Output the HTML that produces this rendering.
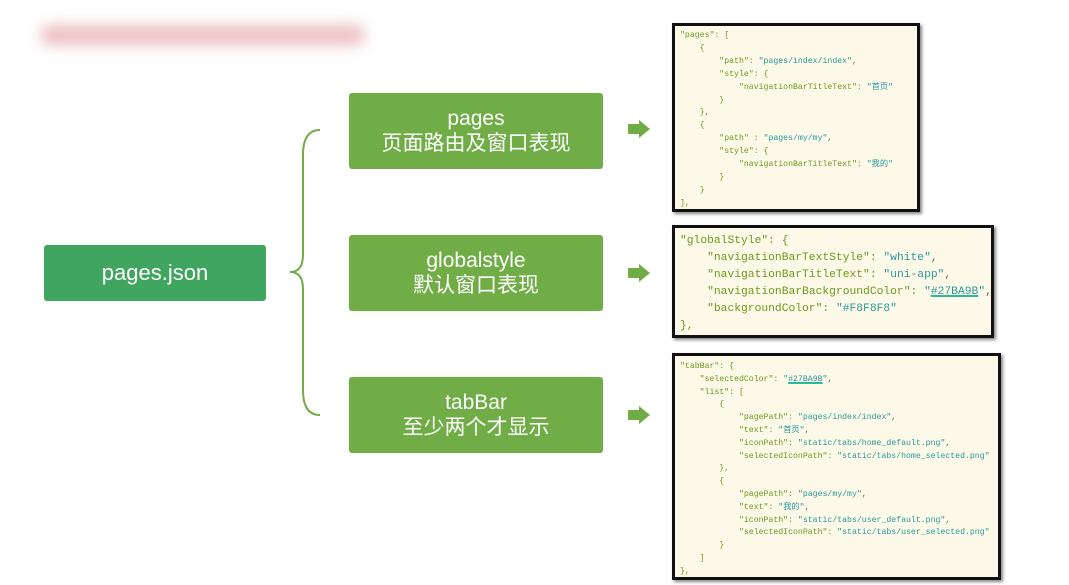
<!DOCTYPE html>
<html><head><meta charset="utf-8"><style>
body{margin:0;width:1069px;height:585px;background:#fff;position:relative;overflow:hidden;font-family:"Liberation Sans","Noto Sans CJK SC",sans-serif}
.blur{position:absolute;left:40px;top:25px;width:325px;height:20px;background:#e8b0b0;filter:blur(7px);opacity:.8;border-radius:10px}
.box{position:absolute;color:#fff;text-align:center;border-radius:3px}
.g{background:#70ad47;left:349px;width:254px;height:76px;font-size:21px;line-height:25px;padding-top:13px;box-sizing:border-box}
.arr{position:absolute;left:628px;width:22px;height:18px}
.panel{position:absolute;background:#fdf9e9;border:3px solid #111;box-shadow:2px 2px 3px #888;box-sizing:border-box;overflow:hidden}
pre{margin:0;font-family:"Liberation Mono","Noto Sans CJK SC",monospace;color:#6b9a1f;white-space:pre}
.v{color:#2a9a9a}.p{color:#666}
.u{text-decoration:underline;text-decoration-color:#27ba9b;text-decoration-thickness:2px}
</style></head><body>
<div class="blur"></div>
<div class="box" style="left:44px;top:245px;width:222px;height:56px;background:#3fa55f;font-size:22px;line-height:56px">pages.json</div>
<svg style="position:absolute;left:285px;top:125px" width="40" height="295"><path d="M35 5 Q18 5 18 30 L18 130 Q18 147 5 147 Q18 147 18 164 L18 265 Q18 290 35 290" fill="none" stroke="#70ad47" stroke-width="2"/></svg>
<div class="box g" style="top:93px">pages<br>页面路由及窗口表现</div>
<div class="box g" style="top:235px">globalstyle<br>默认窗口表现</div>
<div class="box g" style="top:377px">tabBar<br>至少两个才显示</div>
<svg class="arr" style="top:120px" viewBox="0 0 22 18"><path d="M0 4H11V0L22 9L11 18V14H0Z" fill="#70ad47"/></svg>
<svg class="arr" style="top:264px" viewBox="0 0 22 18"><path d="M0 4H11V0L22 9L11 18V14H0Z" fill="#70ad47"/></svg>
<svg class="arr" style="top:406px" viewBox="0 0 22 18"><path d="M0 4H11V0L22 9L11 18V14H0Z" fill="#70ad47"/></svg>
<div class="panel" style="left:672px;top:23px;width:248px;height:189px;padding:4px 0 0 5px">
<pre style="font-size:8.2px;line-height:12.9px">"pages": [
    {
        "path": <span class="v">"pages/index/index"</span><span class="p">,</span>
        "style": {
            "navigationBarTitleText": <span class="v">"首页"</span>
        }
    },
    {
        "path" : <span class="v">"pages/my/my"</span><span class="p">,</span>
        "style": {
            "navigationBarTitleText": <span class="v">"我的"</span>
        }
    }
],</pre></div>
<div class="panel" style="left:672px;top:225px;width:322px;height:113px;padding:5px 0 0 5px">
<pre style="font-size:11.3px;line-height:17px">"globalStyle": {
    "navigationBarTextStyle": <span class="v">"white"</span><span class="p">,</span>
    "navigationBarTitleText": <span class="v">"uni-app"</span><span class="p">,</span>
    "navigationBarBackgroundColor": <span class="v">"<span class="u">#27BA9B</span>"</span><span class="p">,</span>
    "backgroundColor": <span class="v">"#F8F8F8"</span>
},</pre></div>
<div class="panel" style="left:672px;top:353px;width:329px;height:227px;padding:5px 0 0 5px">
<pre style="font-size:8.2px;line-height:12.8px">"tabBar": {
    "selectedColor": <span class="v">"<span class="u">#27BA9B</span>"</span><span class="p">,</span>
    "list": [
        {
            "pagePath": <span class="v">"pages/index/index"</span><span class="p">,</span>
            "text": <span class="v">"首页"</span><span class="p">,</span>
            "iconPath": <span class="v">"static/tabs/home_default.png"</span><span class="p">,</span>
            "selectedIconPath": <span class="v">"static/tabs/home_selected.png"</span>
        },
        {
            "pagePath": <span class="v">"pages/my/my"</span><span class="p">,</span>
            "text": <span class="v">"我的"</span><span class="p">,</span>
            "iconPath": <span class="v">"static/tabs/user_default.png"</span><span class="p">,</span>
            "selectedIconPath": <span class="v">"static/tabs/user_selected.png"</span>
        }
    ]
},</pre></div>
</body></html>
